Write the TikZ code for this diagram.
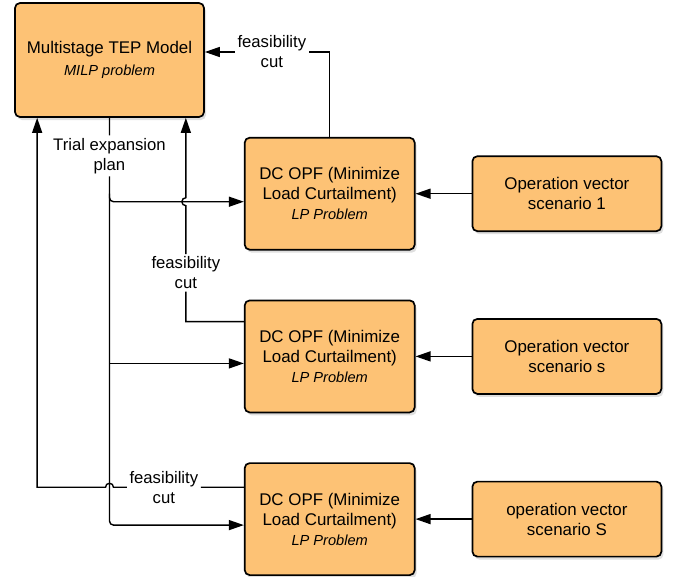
\documentclass[tikz,border=0pt]{standalone}
\usepackage{fontspec}
\setmainfont{Liberation Sans}
\usetikzlibrary{arrows.meta,calc,positioning,shadows}
\definecolor{boxfill}{RGB}{253,194,117}
\tikzset{
    -{Triangle[length=15pt,width=10pt]},node distance =49pt and 56pt,
    model/.style ={rectangle, rounded corners=5pt, draw, line width=1.7pt, fill=boxfill,
        drop shadow={shadow xshift=2pt,shadow yshift=-3pt,opacity=0.25},
        align=center, font=\fontsize{16.9}{20}\selectfont},
    master/.style ={model, minimum width=189pt, minimum height=114pt},
    opf/.style ={model, minimum width=170pt, minimum height=112pt},
    vec/.style ={model, minimum width=189pt, minimum height=75pt},
    lbl/.style = {inner sep=2pt, align=center, font=\fontsize{16.7}{20}\selectfont}
}
\newcommand{\probtype}[1]{{\fontsize{14.6}{17}\selectfont\itshape #1}}

\begin{document}
\begin{tikzpicture}[x=1pt,y=-1pt,line width=1.4pt]
    \useasboundingbox (0,0) rectangle (675,576);
    \node[master] (tep) at (109.5,60) {Multistage TEP Model\\[2pt]\probtype{MILP problem}};
    \node[opf] (dc1) [below right =19pt and 39pt of tep] {DC OPF (Minimize\\Load Curtailment)\\\probtype{LP Problem}};
    \node[opf] (dc2) [below =of dc1] {DC OPF (Minimize\\Load Curtailment)\\\probtype{LP Problem}};
    \node[opf] (dc3) [below =of dc2] {DC OPF (Minimize\\Load Curtailment)\\\probtype{LP Problem}};
    \node[vec] (ov1) [right =of dc1] {Operation vector\\scenario 1};
    \node[vec] (ov2) [right =of dc2] {Operation vector\\scenario s};
    \node[vec] (ov3) [right =of dc3] {operation vector\\scenario S};

    \coordinate (in1) at ([yshift=-8pt]dc1.west);
    \coordinate (in2) at ([yshift=-7pt]dc2.west);
    \coordinate (in3) at ([yshift=-6pt]dc3.west);
    \coordinate (fb2) at ([yshift=-22pt]dc2.north west);
    \coordinate (fb3) at ([yshift=-25pt]dc3.north west);
    \coordinate (up2) at ([xshift=-19pt]tep.south east);
    \coordinate (up3) at ([xshift=23pt]tep.south west);

    \node[lbl] (trial) at ($(tep.south)+(0,38)$) {Trial expansion\\plan};
    \node[lbl] (cut1) at ($(tep.east)+(67,-8)$) {feasibility\\cut};
    \node[lbl] (cut2) at ($(up2)+(0,155)$) {feasibility\\cut};
    \node[lbl] (cut3) at ($(fb3)+(-80,0)$) {feasibility\\cut};

    % trial plan to the sub problems
    \draw[rounded corners=4pt] (tep.south) -- (trial) -- (trial |- in3) -- (in3);
    \draw[rounded corners=4pt] ($(tep.south |- in1)+(0,-8)$) -- (tep.south |- in1) -- (in1);
    \draw (tep.south |- in2) -- (in2);
    % feasibility cuts back to the master problem
    \draw (dc1.north) |- (cut1) -- ([yshift=8pt]tep.east);
    \draw (fb2) -| (cut2) -- ($(up2 |- in1)+(0,4)$) arc[start angle=-90,end angle=-270,radius=4pt] -- (up2);
    \draw (fb3) -- (cut3) -- ($(tep.south |- fb3)+(4,0)$) arc[start angle=0,end angle=180,radius=4pt] -- (up3 |- fb3) -- (up3);
    % scenarios
    \path (ov1) edge (dc1);
    \path (ov2) edge (dc2);
    \path (ov3) edge (dc3);
\end{tikzpicture}
\end{document}
